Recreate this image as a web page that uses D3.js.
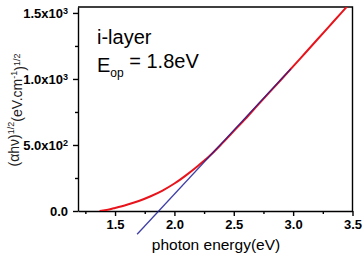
<!DOCTYPE html>
<html>
<head>
<meta charset="utf-8">
<script src="https://cdn.jsdelivr.net/npm/d3@7"></script>
<style>
  body { margin: 0; background: #fff; }
  svg { font-family: Arial, "Liberation Sans", sans-serif; }
  .axis path, .axis line { stroke: #000; stroke-width: 1.4; }
  .axis text { font-weight: bold; font-size: 13px; fill: #000; }
</style>
</head>
<body>
<svg width="363" height="256"></svg>
<script>
// measured absorption curve (photon energy eV, (alpha h nu)^1/2)
const energy = [1.37, 1.4, 1.45, 1.5, 1.6, 1.7, 1.8, 1.9, 2.0, 2.1, 2.2, 2.3, 2.4, 2.5, 2.6, 2.7, 2.8, 2.9, 3.0, 3.1, 3.2, 3.3, 3.4, 3.46];
const tauc = [0, 4, 12, 23, 47, 76, 112, 155, 208, 272, 343, 420, 510, 605, 700, 800, 898, 996, 1095, 1195, 1295, 1395, 1495, 1555];

// linear fit line endpoints
const fitX = [1.686, 2.98];
const fitY = [-176, 1076];

const xTicks = [1.5, 2.0, 2.5, 3.0, 3.5];
const xMinor = [1.25, 1.75, 2.25, 2.75, 3.25];
const yTicks = [0, 500, 1000, 1500];
const yMinor = [250, 750, 1250];
const yTickBase = ["0.0", "5.0x10", "1.0x10", "1.5x10"];
const yTickExp = ["", "2", "3", "3"];

const margin = { top: 7, right: 10.5, bottom: 45, left: 78 };
const width = 363, height = 256;

const svg = d3.select("svg");

const x = d3.scaleLinear()
  .domain([1.188, 3.5])
  .range([margin.left, width - margin.right]);

const y = d3.scaleLinear()
  .domain([0, 1545])
  .range([height - margin.bottom, margin.top]);

// minor ticks first
svg.append("g")
  .attr("class", "axis")
  .attr("transform", `translate(0,${height - margin.bottom})`)
  .call(d3.axisBottom(x).tickValues(xMinor).tickSize(3).tickFormat(""))
  .call(g => g.select(".domain").remove());

svg.append("g")
  .attr("class", "axis")
  .attr("transform", `translate(${margin.left},0)`)
  .call(d3.axisLeft(y).tickValues(yMinor).tickSize(3).tickFormat(""))
  .call(g => g.select(".domain").remove());

// major ticks
svg.append("g")
  .attr("class", "axis")
  .attr("transform", `translate(0,${height - margin.bottom})`)
  .call(d3.axisBottom(x).tickValues(xTicks).tickSize(5).tickSizeOuter(0).tickPadding(4).tickFormat(d3.format(".1f")));

const yAxis = svg.append("g")
  .attr("class", "axis")
  .attr("transform", `translate(${margin.left},0)`)
  .call(d3.axisLeft(y).tickValues(yTicks).tickSize(5).tickSizeOuter(0).tickFormat(""));

yAxis.selectAll(".tick text").each(function (d, i) {
  const t = d3.select(this).attr("dy", "0.35em").attr("x", -10);
  t.append("tspan").text(yTickBase[i]);
  if (yTickExp[i]) {
    t.append("tspan").attr("dy", "-0.5em").attr("font-size", "9px").text(yTickExp[i]);
  }
});

// frame: top and right
svg.append("path")
  .attr("d", `M${margin.left},${margin.top}H${width - margin.right}V${height - margin.bottom}`)
  .attr("fill", "none")
  .attr("stroke", "#000")
  .attr("stroke-width", 1.4);

svg.append("defs").append("clipPath").attr("id", "clip")
  .append("rect")
  .attr("x", margin.left).attr("y", margin.top)
  .attr("width", width - margin.left - margin.right)
  .attr("height", height - margin.top - margin.bottom);

// red data curve
const line = d3.line()
  .x((d, i) => x(energy[i]))
  .y(d => y(d))
  .curve(d3.curveMonotoneX);

svg.append("path")
  .datum(tauc)
  .attr("clip-path", "url(#clip)")
  .attr("d", line)
  .attr("fill", "none")
  .attr("stroke", "#e8141c")
  .attr("stroke-width", 2);

// blue fit line
svg.append("line")
  .attr("x1", x(fitX[0])).attr("y1", y(fitY[0]))
  .attr("x2", x(fitX[1])).attr("y2", y(fitY[1]))
  .attr("stroke", "#1c1c96")
  .attr("stroke-opacity", 0.85)
  .attr("stroke-width", 1.3);

// annotation
svg.append("text")
  .attr("x", 97).attr("y", 44)
  .attr("font-size", "20px")
  .text("i-layer");

const eop = svg.append("text")
  .attr("x", 97).attr("y", 72)
  .attr("font-size", "20px");
eop.append("tspan").text("E");
eop.append("tspan").attr("dy", "0.45em").attr("font-size", "12px").text("op");
eop.append("tspan").attr("dy", "-0.45em").text(" = 1.8eV");

// axis titles
svg.append("text")
  .attr("x", 216).attr("y", 250)
  .attr("text-anchor", "middle")
  .attr("font-size", "15.5px")
  .text("photon energy(eV)");

const yt = svg.append("text")
  .attr("transform", `translate(19,${110}) rotate(-90)`)
  .attr("text-anchor", "middle")
  .attr("font-size", "14px")
  .attr("fill", "#222");
yt.append("tspan").text("(αhν)");
yt.append("tspan").attr("dy", "-0.6em").attr("font-size", "9px").text("1/2");
yt.append("tspan").attr("dy", "0.6em").text("(eV.cm");
yt.append("tspan").attr("dy", "-0.6em").attr("font-size", "9px").text("-1");
yt.append("tspan").attr("dy", "0.6em").text(")");
yt.append("tspan").attr("dy", "-0.6em").attr("font-size", "9px").text("1/2");
</script>
</body>
</html>
